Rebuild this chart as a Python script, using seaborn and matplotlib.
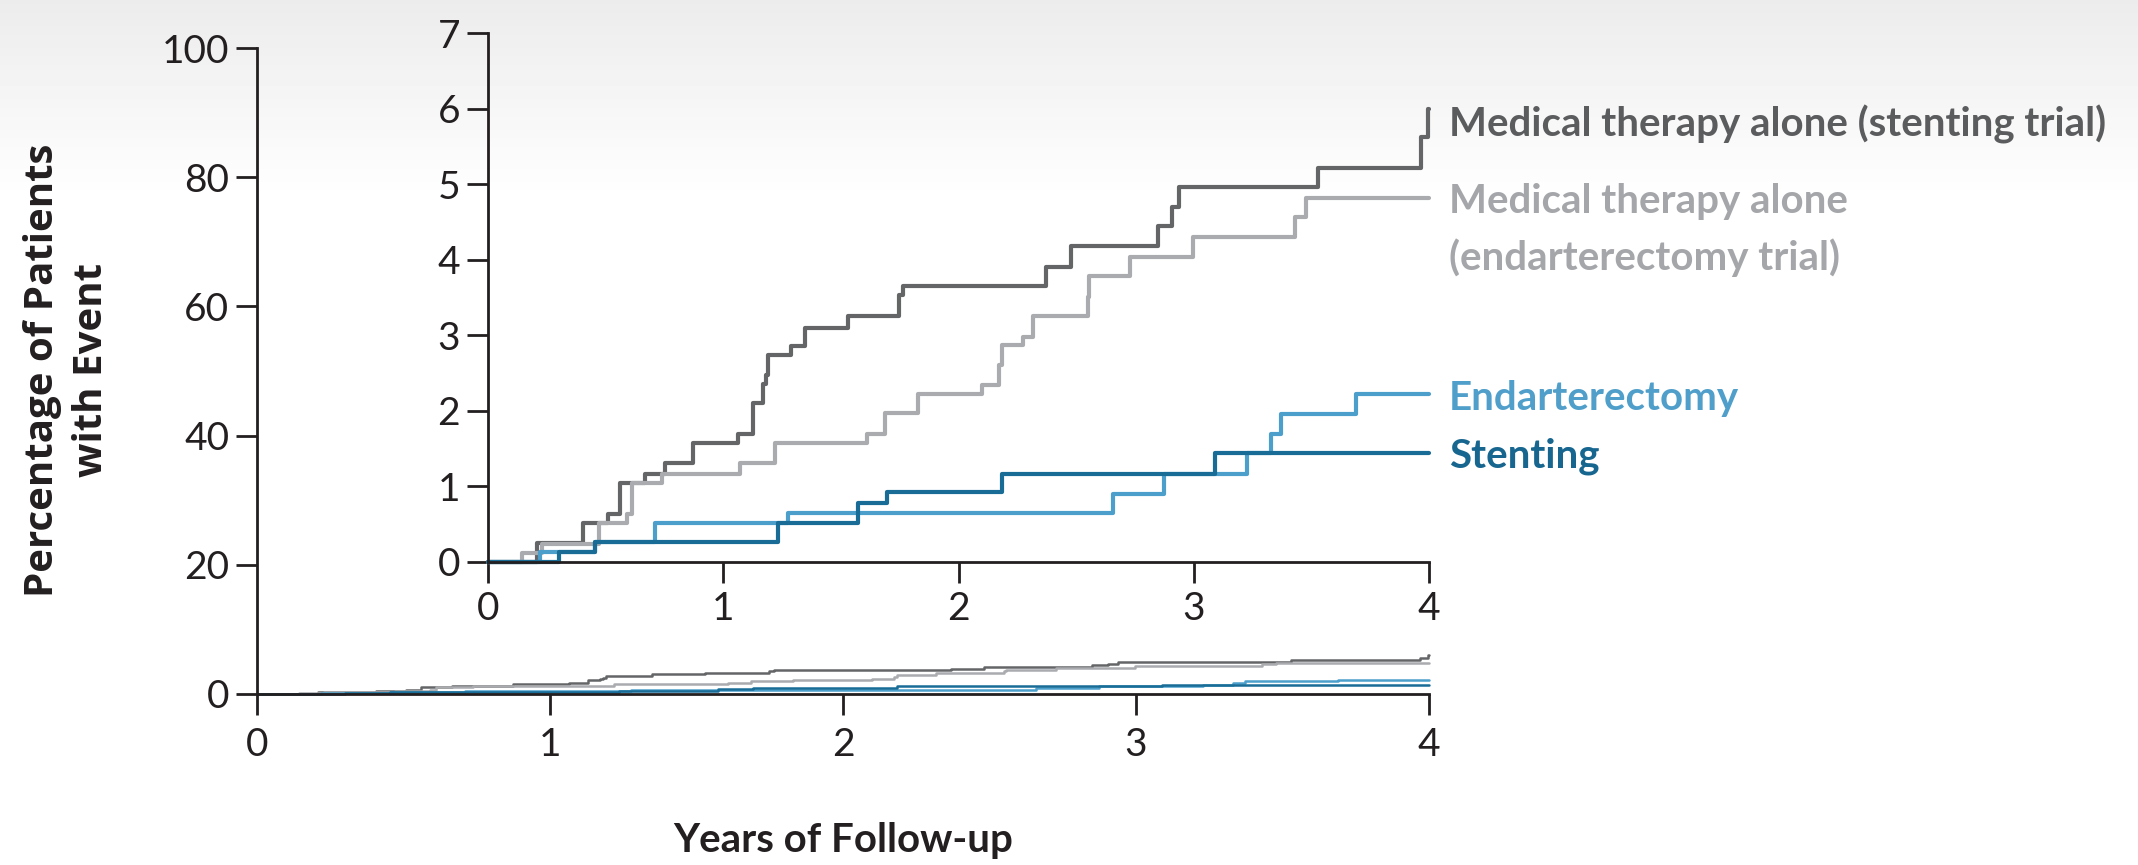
import numpy as np
import pandas as pd
import matplotlib
matplotlib.use("Agg")
import matplotlib.pyplot as plt
from matplotlib import font_manager
import seaborn as sns

sns.set_theme(style="ticks")

names = {f.name for f in font_manager.fontManager.ttflist}
NARROW = "Liberation Sans Narrow" if "Liberation Sans Narrow" in names else "Lato"
plt.rcParams["font.family"] = [NARROW, "DejaVu Sans"]

# ---- data (percent of patients with event, Kaplan-Meier steps) ----
years_med_stent = [0, 0.207, 0.405, 0.51, 0.561, 0.667, 0.752, 0.873, 1.064, 1.128, 1.17,
                   1.18, 1.19, 1.29, 1.347, 1.53, 1.748, 1.765, 2.37, 2.48, 2.849, 2.906,
                   2.938, 3.529, 3.968, 3.997, 4.0]
pct_med_stent = [0, 0.25, 0.52, 0.63, 1.04, 1.17, 1.31, 1.58, 1.70, 2.10, 2.35,
                 2.47, 2.74, 2.86, 3.10, 3.25, 3.53, 3.65, 3.91, 4.18, 4.44, 4.70,
                 4.96, 5.22, 5.62, 6.0, 6.0]

years_med_endart = [0, 0.143, 0.228, 0.47, 0.59, 0.61, 0.738, 1.071, 1.22, 1.609, 1.687,
                    1.829, 2.098, 2.173, 2.183, 2.275, 2.318, 2.551, 2.556, 2.728, 2.997,
                    3.43, 3.479, 4.0]
pct_med_endart = [0, 0.115, 0.24, 0.52, 0.64, 1.04, 1.17, 1.31, 1.57, 1.70, 1.97,
                  2.22, 2.34, 2.61, 2.87, 2.98, 3.25, 3.51, 3.78, 4.04, 4.30,
                  4.57, 4.82, 4.82]

years_endart = [0, 0.22, 0.455, 0.71, 1.276, 2.657, 2.873, 3.227, 3.33, 3.373, 3.689, 4.0]
pct_endart = [0, 0.13, 0.26, 0.51, 0.645, 0.90, 1.17, 1.44, 1.69, 1.96, 2.22, 2.22]

years_stent = [0, 0.30, 0.455, 1.234, 1.574, 1.694, 2.183, 3.09, 4.0]
pct_stent = [0, 0.13, 0.26, 0.51, 0.78, 0.92, 1.17, 1.44, 1.44]

groups = ["Medical therapy alone (stenting trial)",
          "Medical therapy alone\n(endarterectomy trial)",
          "Endarterectomy",
          "Stenting"]
line_colors = ["#646567", "#a9abae", "#4c9ecb", "#186c96"]
text_colors = ["#5b5c5e", "#a4a6a9", "#4f9fca", "#17668f"]

frames = []
for g, xs, ys in zip(groups,
                     [years_med_stent, years_med_endart, years_endart, years_stent],
                     [pct_med_stent, pct_med_endart, pct_endart, pct_stent]):
    frames.append(pd.DataFrame({"Years": xs, "Pct": ys, "Group": g}))
df = pd.concat(frames, ignore_index=True)
palette = dict(zip(groups, line_colors))

W, H = 2138, 865
fig = plt.figure(figsize=(W / 100, H / 100), dpi=100)

# faint grey gradient at the top of the image
bg = fig.add_axes([0, 0, 1, 1], zorder=-10)
grad = np.clip(np.linspace(0.925, 1.25, 200), 0, 1).reshape(-1, 1)
bg.imshow(grad, aspect="auto", cmap="gray", vmin=0, vmax=1, extent=[0, 1, 0, 1])
bg.axis("off")


def style_axes(ax, ymax, yticks, xpad, lw):
    sns.lineplot(data=df, x="Years", y="Pct", hue="Group", palette=palette,
                 estimator=None, sort=False, drawstyle="steps-post",
                 linewidth=lw, legend=False, ax=ax)
    for ln in ax.lines:
        ln.set_clip_on(False)
    ax.set_xlim(0, 4)
    ax.set_ylim(0, ymax)
    ax.set_xticks([0, 1, 2, 3, 4])
    ax.set_yticks(yticks)
    ax.set_xlabel("")
    ax.set_ylabel("")
    ax.patch.set_alpha(0)
    sns.despine(ax=ax)
    for s in ["left", "bottom"]:
        ax.spines[s].set_linewidth(2.0)
        ax.spines[s].set_color("#231f20")
    ax.tick_params(axis="both", direction="out", length=15, width=2.0,
                   color="#231f20", labelsize=28, labelcolor="#231f20")
    ax.tick_params(axis="y", pad=5)
    ax.tick_params(axis="x", pad=xpad)


# main axes (0-100 %)
ax = fig.add_axes([257 / W, 1 - 694 / H, (1429 - 257) / W, (694 - 48) / H])
style_axes(ax, 100, [0, 20, 40, 60, 80, 100], 9, 1.8)

# inset (0-7 %)
axin = fig.add_axes([488 / W, 1 - 562 / H, (1429 - 488) / W, (562 - 33) / H])
style_axes(axin, 7, [0, 1, 2, 3, 4, 5, 6, 7], 6, 3.0)

# axis titles
fig.text(843 / W, 1 - 852 / H, "Years of Follow-up", ha="center", va="baseline",
         fontsize=29, fontweight="bold", color="#231f20")
fig.text(67 / W, 1 - 370 / H, "Percentage of Patients\nwith Event", rotation=90,
         ha="center", va="center", multialignment="center", linespacing=1.35,
         fontsize=29, fontweight="bold", color="#231f20",
         family=["Open Sans", "DejaVu Sans"])

# direct labels at the right of the curves
label_baselines = [137, 213, 410, 468]
for g, c, yb in zip(groups, text_colors, label_baselines):
    fig.text(1449 / W, 1 - yb / H, g.split("\n")[0], ha="left", va="baseline",
             fontsize=29, fontweight="bold", color=c)
fig.text(1449 / W, 1 - 270 / H, groups[1].split("\n")[1], ha="left", va="baseline",
         fontsize=29, fontweight="bold", color=text_colors[1])

fig.savefig("out.png", dpi=100)
